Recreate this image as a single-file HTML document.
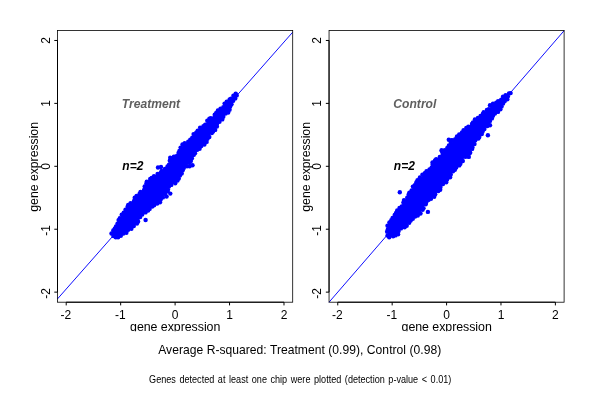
<!DOCTYPE html>
<html><head><meta charset="utf-8"><title>gene expression</title>
<style>
html,body{margin:0;padding:0;background:#fff}
body{width:600px;height:400px;overflow:hidden}
svg{display:block}
text{font-family:"Liberation Sans",Arial,Helvetica,sans-serif;fill:#000}
.t12{font-size:12px}
.lab{font-size:12.4px}
.bi{font-size:12px;font-weight:bold;font-style:italic}
</style></head><body>
<svg width="600" height="400" viewBox="0 0 600 400">
<rect width="600" height="400" fill="#fff"/>
<defs><clipPath id="cl"><rect x="0" y="0" width="600" height="331.3"/></clipPath></defs>

<g>
<line x1="57.50" y1="298.90" x2="292.70" y2="32.20" stroke="#0000ff" stroke-width="0.95"/>
<g fill="#0000ff"><polygon points="111.8,234.1 113.5,237.7 119.8,237.1 125.3,233.4 131.1,228.0 131.3,227.9 137.0,223.8 138.1,219.5 138.1,219.3 138.2,219.2 138.3,219.0 138.4,218.9 138.5,218.7 138.6,218.6 143.6,213.6 143.7,213.4 143.9,213.3 144.1,213.2 149.8,210.4 152.0,206.5 152.1,206.3 152.2,206.2 152.4,206.1 152.5,205.9 152.7,205.8 152.8,205.7 153.0,205.6 158.6,203.4 162.3,197.5 162.4,197.3 162.5,197.2 166.3,192.9 169.5,186.6 169.6,186.4 169.7,186.3 169.8,186.1 169.9,186.0 170.1,185.9 170.2,185.8 176.0,182.3 179.0,177.4 181.3,172.3 181.4,172.1 181.5,172.0 184.6,167.5 184.7,167.3 184.9,167.2 190.4,161.9 192.7,158.4 195.7,152.8 195.8,152.6 195.9,152.5 198.4,149.4 198.5,149.2 198.7,149.1 204.1,144.2 206.4,140.7 206.6,140.5 209.4,137.1 209.9,135.0 210.0,134.8 210.1,134.7 210.1,134.5 210.2,134.3 210.4,134.2 210.5,134.1 210.6,133.9 210.8,133.8 215.2,131.1 217.5,124.8 217.5,124.7 217.6,124.5 217.7,124.4 220.9,120.0 224.0,115.6 224.1,115.5 224.2,115.4 227.7,111.8 230.1,107.1 230.2,106.9 232.7,103.2 232.8,103.1 236.3,98.4 237.6,94.2 237.3,94.0 235.9,94.3 231.3,98.4 231.3,98.4 226.4,102.7 221.5,107.6 217.0,112.9 216.9,113.0 216.8,113.1 211.9,117.1 208.4,120.1 206.6,122.5 206.5,122.6 206.3,122.8 201.4,127.1 193.4,135.1 187.7,141.3 187.6,141.5 187.4,141.6 182.8,145.1 180.5,149.6 180.5,149.8 180.4,149.9 180.3,150.1 175.3,155.8 175.1,156.0 175.0,156.1 174.8,156.2 174.6,156.3 174.5,156.4 170.6,157.8 170.7,159.9 170.7,160.1 170.7,160.2 170.7,160.4 170.6,160.6 170.6,160.8 170.5,161.0 168.0,165.4 167.9,165.6 167.7,165.7 167.6,165.9 161.3,171.5 161.2,171.6 161.1,171.7 156.1,174.8 151.1,177.9 146.8,181.2 145.2,187.4 145.1,187.6 145.1,187.8 144.9,188.0 144.8,188.1 144.7,188.3 144.5,188.4 140.1,192.1 137.4,194.9 135.0,199.1 134.9,199.3 134.8,199.4 134.7,199.6 134.5,199.7 134.4,199.8 128.5,203.8 125.6,210.8 125.5,211.0 125.4,211.1 125.3,211.3 121.6,215.6 118.0,221.5 115.6,227.1 115.5,227.2 111.8,234.1"/><circle cx="111.5" cy="233.5" r="2.2"/><circle cx="113.4" cy="236.1" r="2.2"/><circle cx="115.8" cy="237.2" r="2.2"/><circle cx="118.1" cy="237.2" r="2.2"/><circle cx="120.8" cy="235.8" r="2.2"/><circle cx="123.4" cy="233.5" r="2.2"/><circle cx="126.4" cy="232.8" r="2.2"/><circle cx="128.2" cy="229.7" r="2.2"/><circle cx="131.4" cy="228.8" r="2.2"/><circle cx="133.8" cy="226.0" r="2.2"/><circle cx="137.0" cy="223.6" r="2.2"/><circle cx="138.1" cy="221.4" r="2.2"/><circle cx="137.8" cy="218.2" r="2.2"/><circle cx="140.2" cy="217.1" r="2.2"/><circle cx="142.2" cy="214.6" r="2.2"/><circle cx="145.5" cy="212.4" r="2.2"/><circle cx="148.1" cy="210.5" r="2.2"/><circle cx="149.6" cy="208.9" r="2.2"/><circle cx="152.2" cy="206.6" r="2.2"/><circle cx="154.1" cy="205.2" r="2.2"/><circle cx="157.2" cy="203.6" r="2.2"/><circle cx="160.0" cy="202.3" r="2.2"/><circle cx="160.7" cy="199.4" r="2.2"/><circle cx="162.9" cy="197.4" r="2.2"/><circle cx="165.3" cy="194.1" r="2.2"/><circle cx="167.6" cy="191.3" r="2.2"/><circle cx="168.0" cy="189.6" r="2.2"/><circle cx="169.0" cy="186.4" r="2.2"/><circle cx="171.3" cy="184.9" r="2.2"/><circle cx="175.2" cy="183.2" r="2.2"/><circle cx="177.5" cy="180.6" r="2.2"/><circle cx="178.8" cy="178.4" r="2.2"/><circle cx="180.0" cy="175.4" r="2.2"/><circle cx="181.7" cy="173.4" r="2.2"/><circle cx="182.7" cy="170.3" r="2.2"/><circle cx="183.8" cy="167.9" r="2.2"/><circle cx="187.0" cy="166.2" r="2.2"/><circle cx="189.6" cy="162.8" r="2.2"/><circle cx="190.9" cy="161.1" r="2.2"/><circle cx="191.9" cy="158.2" r="2.2"/><circle cx="193.7" cy="154.9" r="2.2"/><circle cx="195.0" cy="153.3" r="2.2"/><circle cx="197.0" cy="149.9" r="2.2"/><circle cx="199.6" cy="148.8" r="2.2"/><circle cx="201.3" cy="146.0" r="2.2"/><circle cx="204.4" cy="144.5" r="2.2"/><circle cx="206.6" cy="141.9" r="2.2"/><circle cx="207.5" cy="138.7" r="2.2"/><circle cx="209.3" cy="137.0" r="2.2"/><circle cx="211.8" cy="133.1" r="2.2"/><circle cx="213.1" cy="131.6" r="2.2"/><circle cx="215.2" cy="129.9" r="2.2"/><circle cx="216.9" cy="126.6" r="2.2"/><circle cx="217.0" cy="124.0" r="2.2"/><circle cx="219.5" cy="121.7" r="2.2"/><circle cx="222.3" cy="119.4" r="2.2"/><circle cx="223.3" cy="116.8" r="2.2"/><circle cx="225.6" cy="113.5" r="2.2"/><circle cx="228.2" cy="112.5" r="2.2"/><circle cx="229.6" cy="109.8" r="2.2"/><circle cx="230.2" cy="106.4" r="2.2"/><circle cx="231.5" cy="104.2" r="2.2"/><circle cx="233.2" cy="100.7" r="2.2"/><circle cx="235.3" cy="98.4" r="2.2"/><circle cx="236.7" cy="95.4" r="2.2"/><circle cx="235.7" cy="93.6" r="2.2"/><circle cx="233.4" cy="95.7" r="2.2"/><circle cx="231.0" cy="98.6" r="2.2"/><circle cx="229.6" cy="99.4" r="2.2"/><circle cx="226.7" cy="101.8" r="2.2"/><circle cx="224.6" cy="103.6" r="2.2"/><circle cx="223.3" cy="107.2" r="2.2"/><circle cx="220.5" cy="108.7" r="2.2"/><circle cx="217.9" cy="110.4" r="2.2"/><circle cx="216.2" cy="113.0" r="2.2"/><circle cx="214.7" cy="114.8" r="2.2"/><circle cx="210.9" cy="118.1" r="2.2"/><circle cx="209.4" cy="118.7" r="2.2"/><circle cx="207.3" cy="120.8" r="2.2"/><circle cx="205.2" cy="124.6" r="2.2"/><circle cx="203.4" cy="126.2" r="2.2"/><circle cx="200.1" cy="127.7" r="2.2"/><circle cx="197.7" cy="130.6" r="2.2"/><circle cx="196.2" cy="132.8" r="2.2"/><circle cx="193.6" cy="134.1" r="2.2"/><circle cx="192.3" cy="137.7" r="2.2"/><circle cx="190.3" cy="139.7" r="2.2"/><circle cx="188.2" cy="141.8" r="2.2"/><circle cx="184.7" cy="143.3" r="2.2"/><circle cx="182.5" cy="144.4" r="2.2"/><circle cx="180.6" cy="147.6" r="2.2"/><circle cx="179.4" cy="151.0" r="2.2"/><circle cx="178.5" cy="152.9" r="2.2"/><circle cx="176.4" cy="156.1" r="2.2"/><circle cx="173.9" cy="156.7" r="2.2"/><circle cx="170.2" cy="157.8" r="2.2"/><circle cx="169.8" cy="160.8" r="2.2"/><circle cx="169.0" cy="164.7" r="2.2"/><circle cx="167.5" cy="166.4" r="2.2"/><circle cx="164.9" cy="169.0" r="2.2"/><circle cx="161.6" cy="170.9" r="2.2"/><circle cx="160.6" cy="172.9" r="2.2"/><circle cx="157.6" cy="174.0" r="2.2"/><circle cx="154.0" cy="176.2" r="2.2"/><circle cx="151.7" cy="177.9" r="2.2"/><circle cx="150.2" cy="179.0" r="2.2"/><circle cx="146.8" cy="181.8" r="2.2"/><circle cx="146.4" cy="183.4" r="2.2"/><circle cx="144.7" cy="186.4" r="2.2"/><circle cx="144.1" cy="189.9" r="2.2"/><circle cx="140.5" cy="191.9" r="2.2"/><circle cx="139.6" cy="193.7" r="2.2"/><circle cx="136.6" cy="195.9" r="2.2"/><circle cx="134.7" cy="197.7" r="2.2"/><circle cx="134.0" cy="200.9" r="2.2"/><circle cx="130.6" cy="203.1" r="2.2"/><circle cx="128.2" cy="205.0" r="2.2"/><circle cx="127.6" cy="206.7" r="2.2"/><circle cx="125.5" cy="209.7" r="2.2"/><circle cx="123.7" cy="212.8" r="2.2"/><circle cx="121.7" cy="214.8" r="2.2"/><circle cx="119.8" cy="218.3" r="2.2"/><circle cx="118.6" cy="220.1" r="2.2"/><circle cx="117.5" cy="223.7" r="2.2"/><circle cx="116.0" cy="226.5" r="2.2"/><circle cx="114.8" cy="228.6" r="2.2"/><circle cx="113.3" cy="230.5" r="2.2"/><circle cx="145.6" cy="220.0" r="2.2"/><circle cx="192.5" cy="165.3" r="2.2"/><circle cx="189.6" cy="166.2" r="2.2"/><circle cx="170.3" cy="193.6" r="2.2"/><circle cx="166.6" cy="196.6" r="2.2"/><circle cx="158.0" cy="167.5" r="2.2"/><circle cx="161.0" cy="167.0" r="2.2"/></g>
<rect x="57.50" y="30.40" width="235.20" height="271.80" fill="none" stroke="#000" stroke-width="0.8"/>
<path d="M66.21 302.20H283.99M66.21 302.20v3.2M120.66 302.20v3.2M175.10 302.20v3.2M229.54 302.20v3.2M283.99 302.20v3.2M57.50 40.47V292.13M57.50 40.47h-3.2M57.50 103.38h-3.2M57.50 166.30h-3.2M57.50 229.22h-3.2M57.50 292.13h-3.2" stroke="#000" stroke-width="1" fill="none"/>
<text class="t12" x="65.81" y="318.7" text-anchor="middle">-2</text>
<text class="t12" x="120.26" y="318.7" text-anchor="middle">-1</text>
<text class="t12" x="175.10" y="318.7" text-anchor="middle">0</text>
<text class="t12" x="229.54" y="318.7" text-anchor="middle">1</text>
<text class="t12" x="283.99" y="318.7" text-anchor="middle">2</text>
<text class="t12" transform="translate(49.70 293.43) rotate(-90)" text-anchor="middle">-2</text>
<text class="t12" transform="translate(49.70 230.52) rotate(-90)" text-anchor="middle">-1</text>
<text class="t12" transform="translate(49.70 166.30) rotate(-90)" text-anchor="middle">0</text>
<text class="t12" transform="translate(49.70 103.38) rotate(-90)" text-anchor="middle">1</text>
<text class="t12" transform="translate(49.70 40.47) rotate(-90)" text-anchor="middle">2</text>
<text class="lab" x="175.20" y="330.6" text-anchor="middle" textLength="90.3" clip-path="url(#cl)">gene expression</text>
<text class="lab" transform="translate(38.10 166.80) rotate(-90)" text-anchor="middle" textLength="89.8">gene expression</text>
<text class="bi" x="121.86" y="108" style="fill:#5f5f5f;font-size:12.1px">Treatment</text>
<text class="bi" x="122.36" y="170.3">n=2</text>
</g>
<g>
<line x1="329.05" y1="302.20" x2="564.10" y2="30.70" stroke="#0000ff" stroke-width="0.95"/>
<g fill="#0000ff"><polygon points="387.2,232.2 389.2,237.5 393.1,236.1 393.2,236.1 397.5,234.8 399.4,230.5 399.5,230.3 399.6,230.1 399.7,229.9 399.9,229.8 400.0,229.7 400.2,229.5 406.1,226.0 409.6,221.3 409.8,221.1 409.9,221.0 414.9,216.6 415.1,216.5 415.2,216.4 419.8,213.6 423.3,207.7 423.3,207.6 427.1,202.0 427.2,201.8 427.3,201.7 427.5,201.6 427.6,201.4 431.2,199.1 434.7,194.9 434.8,194.8 438.4,191.3 440.7,186.6 440.8,186.4 440.9,186.2 441.1,186.1 446.1,181.1 446.2,181.0 450.7,177.0 451.8,173.2 451.9,173.0 452.0,172.8 452.1,172.6 452.2,172.5 452.3,172.3 457.3,167.4 461.4,162.7 463.1,158.0 463.2,157.9 463.3,157.7 463.4,157.5 463.5,157.4 463.7,157.3 463.8,157.1 464.0,157.0 464.2,156.9 464.3,156.9 464.5,156.8 468.6,155.8 471.9,148.6 472.0,148.5 475.1,142.2 475.2,142.1 475.3,141.9 475.4,141.8 479.6,136.9 482.0,132.8 482.1,132.6 485.9,127.5 486.0,127.4 486.2,127.3 486.3,127.1 490.0,124.5 490.5,121.0 490.6,120.8 490.6,120.6 490.7,120.4 490.8,120.2 490.9,120.0 494.6,115.0 494.8,114.9 494.9,114.8 495.1,114.6 498.2,112.3 500.3,108.9 500.3,108.9 503.3,104.4 503.4,104.3 506.4,100.2 509.0,95.3 510.3,92.8 509.9,93.0 509.8,93.1 509.6,93.1 506.0,94.3 501.3,98.4 501.2,98.5 496.2,102.2 496.0,102.3 491.0,105.2 489.3,109.2 489.3,109.4 489.2,109.5 489.0,109.7 488.9,109.8 488.7,110.0 488.6,110.1 488.4,110.2 488.2,110.3 483.0,112.2 481.2,116.0 481.1,116.2 481.0,116.4 480.9,116.5 480.8,116.6 480.6,116.8 480.5,116.9 480.3,117.0 475.0,119.7 472.8,122.5 472.7,122.6 472.6,122.8 468.3,126.5 463.9,130.8 463.8,130.9 459.6,134.5 456.6,138.7 456.5,138.8 456.4,138.9 456.3,139.0 448.9,145.2 446.6,148.1 446.4,148.3 446.3,148.4 446.1,148.6 442.2,151.1 442.0,153.9 442.0,154.1 441.9,154.3 441.9,154.5 441.8,154.6 441.7,154.8 441.6,155.0 441.5,155.1 441.3,155.2 441.2,155.3 436.2,159.1 436.0,159.2 431.9,161.5 433.1,164.2 433.2,164.4 433.2,164.6 433.2,164.8 433.2,165.0 433.2,165.2 433.2,165.4 433.2,165.6 433.1,165.8 433.0,166.0 432.9,166.1 432.8,166.3 432.6,166.4 432.5,166.6 432.3,166.7 425.9,170.8 422.9,175.5 422.8,175.6 422.7,175.8 422.6,175.9 417.1,180.7 412.9,187.3 412.9,187.4 409.0,193.1 408.2,196.1 408.1,196.3 408.0,196.5 407.9,196.7 407.8,196.9 404.1,201.2 400.5,207.3 400.3,207.5 400.2,207.6 400.1,207.8 396.1,211.2 393.8,217.6 393.7,217.7 393.6,217.9 393.5,218.1 393.4,218.2 393.3,218.3 389.8,221.7 387.6,227.9 387.2,232.2"/><circle cx="387.1" cy="231.7" r="2.2"/><circle cx="387.5" cy="235.6" r="2.2"/><circle cx="389.2" cy="237.2" r="2.2"/><circle cx="393.1" cy="236.3" r="2.2"/><circle cx="395.4" cy="235.4" r="2.2"/><circle cx="398.1" cy="234.2" r="2.2"/><circle cx="398.6" cy="231.0" r="2.2"/><circle cx="401.0" cy="228.4" r="2.2"/><circle cx="404.6" cy="227.2" r="2.2"/><circle cx="406.7" cy="225.8" r="2.2"/><circle cx="409.2" cy="222.8" r="2.2"/><circle cx="410.7" cy="220.5" r="2.2"/><circle cx="412.8" cy="218.8" r="2.2"/><circle cx="415.1" cy="216.5" r="2.2"/><circle cx="417.8" cy="215.5" r="2.2"/><circle cx="420.5" cy="213.5" r="2.2"/><circle cx="422.6" cy="209.8" r="2.2"/><circle cx="423.5" cy="208.3" r="2.2"/><circle cx="425.7" cy="204.3" r="2.2"/><circle cx="426.2" cy="202.2" r="2.2"/><circle cx="428.5" cy="199.9" r="2.2"/><circle cx="431.0" cy="198.8" r="2.2"/><circle cx="434.2" cy="196.8" r="2.2"/><circle cx="435.2" cy="194.2" r="2.2"/><circle cx="438.3" cy="191.0" r="2.2"/><circle cx="440.2" cy="189.7" r="2.2"/><circle cx="440.5" cy="187.0" r="2.2"/><circle cx="443.0" cy="184.0" r="2.2"/><circle cx="446.2" cy="182.3" r="2.2"/><circle cx="447.1" cy="179.6" r="2.2"/><circle cx="450.1" cy="177.3" r="2.2"/><circle cx="450.8" cy="174.6" r="2.2"/><circle cx="453.0" cy="171.3" r="2.2"/><circle cx="454.9" cy="169.8" r="2.2"/><circle cx="456.2" cy="167.4" r="2.2"/><circle cx="459.3" cy="165.4" r="2.2"/><circle cx="460.4" cy="163.8" r="2.2"/><circle cx="462.8" cy="161.0" r="2.2"/><circle cx="462.9" cy="156.9" r="2.2"/><circle cx="465.7" cy="156.8" r="2.2"/><circle cx="468.6" cy="154.3" r="2.2"/><circle cx="470.2" cy="152.8" r="2.2"/><circle cx="472.1" cy="148.9" r="2.2"/><circle cx="472.4" cy="147.2" r="2.2"/><circle cx="474.5" cy="144.0" r="2.2"/><circle cx="475.3" cy="140.3" r="2.2"/><circle cx="478.4" cy="138.6" r="2.2"/><circle cx="479.3" cy="137.0" r="2.2"/><circle cx="481.8" cy="134.1" r="2.2"/><circle cx="482.6" cy="131.6" r="2.2"/><circle cx="484.4" cy="129.1" r="2.2"/><circle cx="487.3" cy="126.1" r="2.2"/><circle cx="490.0" cy="125.3" r="2.2"/><circle cx="490.0" cy="120.9" r="2.2"/><circle cx="491.9" cy="118.4" r="2.2"/><circle cx="493.0" cy="115.8" r="2.2"/><circle cx="495.0" cy="113.6" r="2.2"/><circle cx="498.0" cy="111.9" r="2.2"/><circle cx="500.4" cy="109.2" r="2.2"/><circle cx="501.6" cy="106.4" r="2.2"/><circle cx="503.1" cy="103.5" r="2.2"/><circle cx="504.8" cy="101.0" r="2.2"/><circle cx="507.3" cy="99.3" r="2.2"/><circle cx="507.9" cy="96.5" r="2.2"/><circle cx="510.6" cy="93.1" r="2.2"/><circle cx="509.0" cy="93.4" r="2.2"/><circle cx="505.6" cy="95.2" r="2.2"/><circle cx="503.0" cy="96.7" r="2.2"/><circle cx="501.2" cy="99.6" r="2.2"/><circle cx="498.1" cy="101.2" r="2.2"/><circle cx="496.2" cy="102.7" r="2.2"/><circle cx="493.0" cy="103.7" r="2.2"/><circle cx="490.0" cy="105.2" r="2.2"/><circle cx="488.8" cy="109.1" r="2.2"/><circle cx="486.9" cy="110.0" r="2.2"/><circle cx="483.7" cy="112.3" r="2.2"/><circle cx="482.9" cy="113.9" r="2.2"/><circle cx="480.6" cy="116.0" r="2.2"/><circle cx="477.9" cy="118.0" r="2.2"/><circle cx="474.9" cy="119.4" r="2.2"/><circle cx="473.0" cy="122.5" r="2.2"/><circle cx="472.0" cy="124.0" r="2.2"/><circle cx="468.4" cy="126.7" r="2.2"/><circle cx="466.3" cy="127.9" r="2.2"/><circle cx="463.6" cy="130.1" r="2.2"/><circle cx="462.0" cy="132.4" r="2.2"/><circle cx="459.2" cy="134.4" r="2.2"/><circle cx="457.0" cy="136.5" r="2.2"/><circle cx="455.3" cy="139.1" r="2.2"/><circle cx="452.8" cy="140.5" r="2.2"/><circle cx="450.8" cy="142.8" r="2.2"/><circle cx="448.9" cy="145.4" r="2.2"/><circle cx="447.3" cy="148.0" r="2.2"/><circle cx="444.8" cy="150.3" r="2.2"/><circle cx="442.0" cy="151.3" r="2.2"/><circle cx="442.6" cy="154.1" r="2.2"/><circle cx="439.8" cy="156.9" r="2.2"/><circle cx="436.2" cy="159.1" r="2.2"/><circle cx="435.0" cy="160.4" r="2.2"/><circle cx="432.5" cy="162.4" r="2.2"/><circle cx="432.6" cy="164.8" r="2.2"/><circle cx="431.6" cy="167.7" r="2.2"/><circle cx="429.5" cy="169.4" r="2.2"/><circle cx="426.5" cy="171.2" r="2.2"/><circle cx="424.8" cy="173.3" r="2.2"/><circle cx="422.4" cy="174.8" r="2.2"/><circle cx="419.9" cy="177.5" r="2.2"/><circle cx="417.5" cy="180.3" r="2.2"/><circle cx="416.3" cy="182.4" r="2.2"/><circle cx="414.8" cy="185.1" r="2.2"/><circle cx="412.9" cy="186.6" r="2.2"/><circle cx="411.6" cy="190.4" r="2.2"/><circle cx="409.4" cy="192.6" r="2.2"/><circle cx="408.6" cy="194.7" r="2.2"/><circle cx="407.2" cy="197.7" r="2.2"/><circle cx="404.0" cy="200.1" r="2.2"/><circle cx="403.4" cy="202.5" r="2.2"/><circle cx="401.8" cy="206.5" r="2.2"/><circle cx="399.5" cy="208.0" r="2.2"/><circle cx="397.2" cy="210.5" r="2.2"/><circle cx="396.0" cy="212.9" r="2.2"/><circle cx="394.7" cy="215.0" r="2.2"/><circle cx="392.6" cy="218.0" r="2.2"/><circle cx="391.3" cy="220.3" r="2.2"/><circle cx="389.4" cy="222.4" r="2.2"/><circle cx="387.5" cy="225.7" r="2.2"/><circle cx="387.8" cy="229.4" r="2.2"/><circle cx="399.8" cy="192.2" r="2.2"/><circle cx="427.9" cy="211.9" r="2.2"/><circle cx="487.9" cy="135.2" r="2.2"/><circle cx="448.8" cy="139.8" r="2.2"/><circle cx="468.8" cy="156.9" r="2.2"/><circle cx="451.6" cy="140.2" r="2.2"/><circle cx="441.6" cy="150.2" r="2.2"/></g>
<rect x="329.05" y="30.40" width="235.05" height="271.80" fill="none" stroke="#000" stroke-width="0.8"/>
<path d="M337.76 302.20H555.39M337.76 302.20v3.2M392.17 302.20v3.2M446.58 302.20v3.2M500.98 302.20v3.2M555.39 302.20v3.2M329.05 40.47V292.13M329.05 40.47h-3.2M329.05 103.38h-3.2M329.05 166.30h-3.2M329.05 229.22h-3.2M329.05 292.13h-3.2" stroke="#000" stroke-width="1" fill="none"/>
<text class="t12" x="337.36" y="318.7" text-anchor="middle">-2</text>
<text class="t12" x="391.77" y="318.7" text-anchor="middle">-1</text>
<text class="t12" x="446.58" y="318.7" text-anchor="middle">0</text>
<text class="t12" x="500.98" y="318.7" text-anchor="middle">1</text>
<text class="t12" x="555.39" y="318.7" text-anchor="middle">2</text>
<text class="t12" transform="translate(321.25 293.43) rotate(-90)" text-anchor="middle">-2</text>
<text class="t12" transform="translate(321.25 230.52) rotate(-90)" text-anchor="middle">-1</text>
<text class="t12" transform="translate(321.25 166.30) rotate(-90)" text-anchor="middle">0</text>
<text class="t12" transform="translate(321.25 103.38) rotate(-90)" text-anchor="middle">1</text>
<text class="t12" transform="translate(321.25 40.47) rotate(-90)" text-anchor="middle">2</text>
<text class="lab" x="446.68" y="330.6" text-anchor="middle" textLength="90.3" clip-path="url(#cl)">gene expression</text>
<text class="lab" transform="translate(309.65 166.80) rotate(-90)" text-anchor="middle" textLength="89.8">gene expression</text>
<text class="bi" x="393.37" y="108" style="fill:#5f5f5f;font-size:12.1px">Control</text>
<text class="bi" x="393.87" y="170.3">n=2</text>
</g>
<text x="158.2" y="353.8" textLength="283" style="font-size:12.1px">Average R-squared: Treatment (0.99), Control (0.98)</text>
<text transform="translate(300.2 383.3) scale(0.91 1)" text-anchor="middle" style="font-size:10px;word-spacing:1.15px">Genes detected at least one chip were plotted (detection p-value &lt; 0.01)</text>
</svg></body></html>
